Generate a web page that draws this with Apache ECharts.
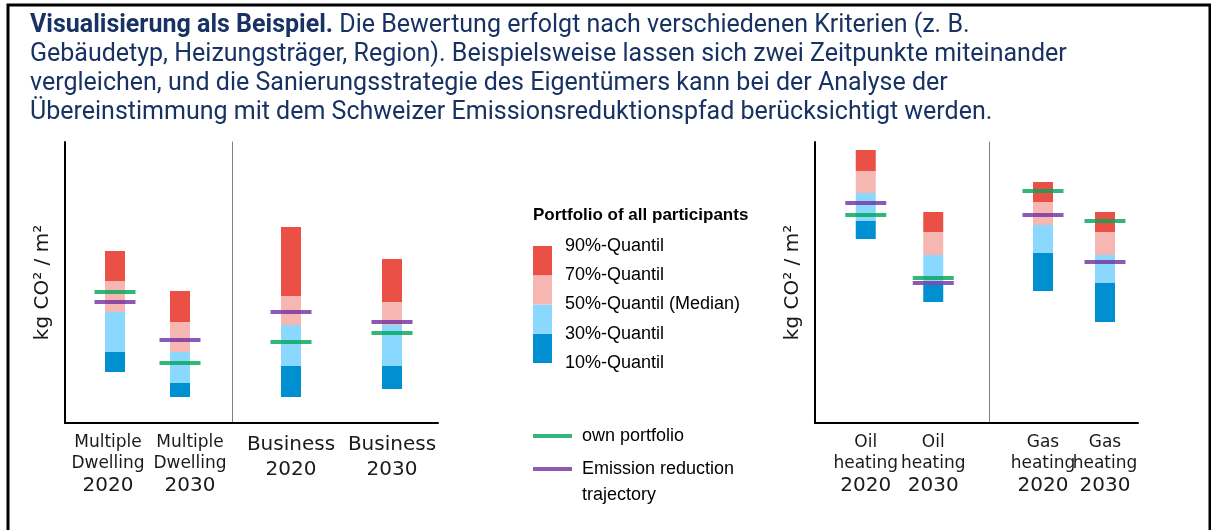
<!DOCTYPE html>
<html>
<head>
<meta charset="utf-8">
<script src="https://cdn.jsdelivr.net/npm/echarts@6/dist/echarts.min.js"></script>
<style>
  html, body { margin: 0; padding: 0; background: #fff; }
  #chart { width: 1211px; height: 530px; }
</style>
</head>
<body>
<div id="chart"></div>
<script>
// ---- data (arbitrary kg CO2/m2 units, no ticks shown) ----
const leftCats = ['Multiple\nDwelling\n2020', 'Multiple\nDwelling\n2030', 'Business\n2020', 'Business\n2030'];
const leftQ10 = [51, 26, 26, 34];
const leftQ30 = [71, 40, 57, 57];
const leftQ50 = [111, 71, 98, 98];
const leftQ70 = [142, 101, 127, 121];
const leftQ90 = [172, 132, 196, 164];
const leftOwn = [131, 60, 81, 90];
const leftPath = [121, 83, 111, 101];

const rightCats = ['Oil\nheating\n2020', 'Oil\nheating\n2030', 'Gas\nheating\n2020', 'Gas\nheating\n2030'];
const rightQ10 = [184, 121, 132, 101];
const rightQ30 = [202, 138, 170, 140];
const rightQ50 = [230, 168, 198, 168];
const rightQ70 = [252, 191, 221, 191];
const rightQ90 = [273, 211, 241, 211];
const rightOwn = [208, 145, 232, 202];
const rightPath = [220, 140, 208, 161];

const quantLevels = [10, 30, 50, 70, 90];
const quantLabels = ['10%-Quantil', '30%-Quantil', '50%-Quantil (Median)', '70%-Quantil', '90%-Quantil'];

const titleLines = [
  '{b|Visualisierung als Beispiel.} Die Bewertung erfolgt nach verschiedenen Kriterien (z. B.',
  'Gebäudetyp, Heizungsträger, Region). Beispielsweise lassen sich zwei Zeitpunkte miteinander',
  'vergleichen, und die Sanierungsstrategie des Eigentümers kann bei der Analyse der',
  'Übereinstimmung mit dem Schweizer Emissionsreduktionspfad berücksichtigt werden.'
];

// ---- styles ----
const segColors = ['#0090d1', '#8ad8fe', '#f6b7b2', '#eb5046'];
const GREEN = '#00a558';
const PURPLE = '#7030a0';
const NAVY = '#183363';
const NARROW = '"Liberation Sans Narrow", "Arial Narrow", sans-serif';
const Y_MAX = 281;
const TOP = 142;

const chart = echarts.init(document.getElementById('chart'));

const grids = [];
const xAxes = [];
const yAxes = [];
const series = [];

// frame = the black L-shaped axes of one chart
function addFrame(left, width) {
  const gi = grids.length;
  grids.push({ left: left, top: TOP, width: width, height: Y_MAX, containLabel: false, outerBoundsMode: 'none' });
  xAxes.push({
    gridIndex: gi, type: 'value', min: 0, max: 1,
    axisLine: { show: true, lineStyle: { color: '#000', width: 2 } },
    axisTick: { show: false }, axisLabel: { show: false }, splitLine: { show: false }
  });
  yAxes.push({
    gridIndex: gi, type: 'value', min: 0, max: Y_MAX,
    axisLine: { show: true, lineStyle: { color: '#000', width: 2 } },
    axisTick: { show: false }, axisLabel: { show: false }, splitLine: { show: false },
    name: 'kg CO² / m²', nameLocation: 'middle', nameGap: 12, nameRotate: 90,
    nameTextStyle: { fontFamily: 'DejaVu Sans', fontSize: 20, color: '#1a1a1a' }
  });
}

// shifts: horizontal nudge of each label relative to its bar
function pairLabel(wordSize, wordLH, yearLH, shifts) {
  const rich = {};
  shifts.forEach((s, i) => {
    const pad = s < 0 ? [0, -2 * s, 0, 0] : [0, 0, 0, 2 * s];
    rich['w' + i] = { fontSize: wordSize, lineHeight: wordLH, fontFamily: 'DejaVu Sans', color: '#1a1a1a', padding: pad };
    rich['y' + i] = { fontSize: 20, lineHeight: yearLH, fontFamily: 'DejaVu Sans', color: '#1a1a1a', padding: pad };
  });
  return {
    interval: 0,
    margin: 9,
    color: '#1a1a1a',
    fontFamily: 'DejaVu Sans',
    formatter: function (v, i) {
      const parts = v.split('\n');
      const year = parts.pop();
      return parts.map(p => '{w' + i + '|' + p + '}').join('\n') + '\n{y' + i + '|' + year + '}';
    },
    rich: rich
  };
}

// one group of two bars (e.g. Business 2020 / 2030)
function addPair(left, width, idx, cats, q10, q30, q50, q70, q90, own, path, label, dividerX) {
  const gi = grids.length;
  const sl = a => a.slice(idx, idx + 2);
  grids.push({ left: left, top: TOP, width: width, height: Y_MAX, containLabel: false, outerBoundsMode: 'none' });
  xAxes.push({
    gridIndex: gi, type: 'category', data: sl(cats),
    axisLine: { show: false }, axisTick: { show: false }, splitLine: { show: false },
    axisLabel: label
  });
  const y = {
    gridIndex: gi, type: 'value', min: 0, max: Y_MAX,
    axisTick: { show: false }, axisLabel: { show: false }, splitLine: { show: false },
    axisLine: { show: false }
  };
  if (dividerX != null) {
    y.axisLine = { show: true, lineStyle: { color: '#808080', width: 1 } };
    y.offset = left - dividerX;
  }
  yAxes.push(y);

  const bounds = [sl(q10), sl(q30), sl(q50), sl(q70), sl(q90)];
  const common = { type: 'bar', xAxisIndex: gi, yAxisIndex: gi, stack: 'q' + gi, barWidth: 20, silent: true };
  series.push(Object.assign({}, common, { data: bounds[0], itemStyle: { color: 'transparent' } }));
  for (let k = 0; k < 4; k++) {
    series.push(Object.assign({}, common, {
      data: bounds[k + 1].map((v, i) => v - bounds[k][i]),
      itemStyle: { color: segColors[k] }
    }));
  }
  series.push({
    type: 'scatter', name: 'own portfolio', xAxisIndex: gi, yAxisIndex: gi,
    data: sl(own), symbol: 'rect', symbolSize: [41, 4], itemStyle: { color: GREEN }, z: 5, silent: true
  });
  series.push({
    type: 'scatter', name: 'Emission reduction trajectory', xAxisIndex: gi, yAxisIndex: gi,
    data: sl(path), symbol: 'rect', symbolSize: [41, 4], itemStyle: { color: PURPLE }, z: 6, silent: true
  });
}

// left chart: building type
addFrame(65, 373);
addPair(82.5, 130, 0, leftCats, leftQ10, leftQ30, leftQ50, leftQ70, leftQ90, leftOwn, leftPath, pairLabel(17, 21, 24, [-7, 10]));
addPair(240.5, 202, 2, leftCats, leftQ10, leftQ30, leftQ50, leftQ70, leftQ90, leftOwn, leftPath, pairLabel(20, 25, 25, [0, 0]), 232);

// right chart: heating type
addFrame(815, 323);
addPair(832, 135, 0, rightCats, rightQ10, rightQ30, rightQ50, rightQ70, rightQ90, rightOwn, rightPath, pairLabel(17, 21, 24, [0, 0]));
addPair(1012, 124, 2, rightCats, rightQ10, rightQ30, rightQ50, rightQ70, rightQ90, rightOwn, rightPath, pairLabel(17, 21, 24, [0, 0]), 989);

// quantile colour key drawn as a tiny stacked bar
const kg = grids.length;
grids.push({ left: 533, top: 246, width: 19, height: 117, containLabel: false, outerBoundsMode: 'none' });
xAxes.push({ gridIndex: kg, type: 'category', data: [''], show: false });
yAxes.push({
  gridIndex: kg, type: 'value', position: 'right', min: quantLevels[0], max: quantLevels[4], interval: 20,
  axisLine: { show: false }, axisTick: { show: false }, splitLine: { show: false },
  axisLabel: {
    margin: 13, fontFamily: NARROW, fontSize: 18, color: '#000', padding: [4, 0, 0, 0],
    formatter: v => quantLabels[quantLevels.indexOf(v)] || ''
  }
});
const keyCommon = { type: 'bar', xAxisIndex: kg, yAxisIndex: kg, stack: 'key', barWidth: '100%', silent: true };
series.push(Object.assign({}, keyCommon, { data: [quantLevels[0]], itemStyle: { color: 'transparent' } }));
for (let k = 0; k < 4; k++) {
  series.push(Object.assign({}, keyCommon, {
    data: [quantLevels[k + 1] - quantLevels[k]], itemStyle: { color: segColors[k] }
  }));
}

const legendText = { fontFamily: NARROW, fontSize: 18, color: '#000', lineHeight: 26, padding: [0, 0, 0, 5] };

chart.setOption({
  animation: false,
  backgroundColor: '#fff',
  title: [
    {
      text: titleLines.join('\n'), left: 30, top: 11, padding: 0,
      textStyle: {
        fontFamily: 'Roboto', fontSize: 25, lineHeight: 29, fontWeight: 'normal', color: NAVY,
        rich: { b: { fontFamily: 'Roboto', fontSize: 25, lineHeight: 29, fontWeight: 'bold', color: NAVY } }
      }
    },
    {
      text: 'Portfolio of all participants', left: 533, top: 207, padding: 0,
      textStyle: { fontFamily: NARROW, fontSize: 17, fontWeight: 'bold', color: '#000' }
    }
  ],
  legend: [
    {
      data: ['own portfolio'], left: 533, top: 423, orient: 'vertical', padding: 0,
      icon: 'rect', itemWidth: 39, itemHeight: 4, selectedMode: false,
      textStyle: legendText
    },
    {
      // blank first line keeps the swatch level with "Emission reduction"
      data: ['Emission reduction trajectory'], left: 533, top: 430, orient: 'vertical', padding: 0,
      icon: 'rect', itemWidth: 39, itemHeight: 4, selectedMode: false,
      formatter: name => ' \n' + name.replace(' trajectory', '\ntrajectory'),
      textStyle: legendText
    }
  ],
  grid: grids,
  xAxis: xAxes,
  yAxis: yAxes,
  series: series,
  graphic: [
    {
      type: 'rect', silent: true, z: 100,
      shape: { x: 8, y: 5, width: 1202, height: 600 },
      style: { fill: 'none', stroke: '#000', lineWidth: 3 }
    }
  ]
});
</script>
</body>
</html>
